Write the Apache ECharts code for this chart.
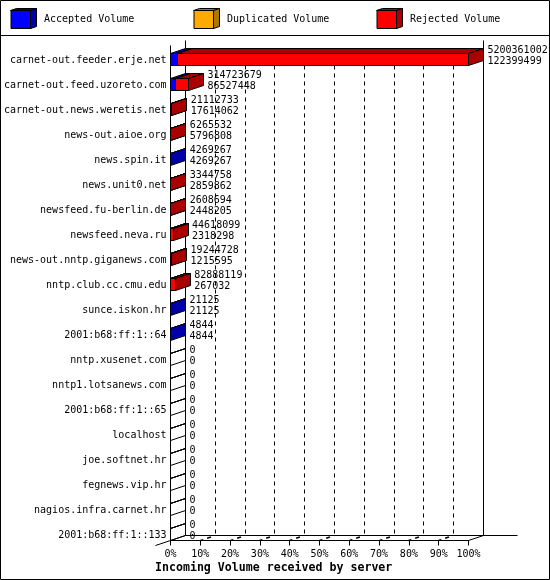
<!DOCTYPE html>
<html><head><meta charset="utf-8">
<style>html,body{margin:0;padding:0;background:#fff}#c{width:550px;height:580px}</style>
<script src="https://cdn.jsdelivr.net/npm/echarts@6/dist/echarts.min.js"></script>
</head><body><div id="c"></div>
<script>
const servers = ["carnet-out.feeder.erje.net","carnet-out.feed.uzoreto.com","carnet-out.news.weretis.net","news-out.aioe.org","news.spin.it","news.unit0.net","newsfeed.fu-berlin.de","newsfeed.neva.ru","news-out.nntp.giganews.com","nntp.club.cc.cmu.edu","sunce.iskon.hr","2001:b68:ff:1::64","nntp.xusenet.com","nntp1.lotsanews.com","2001:b68:ff:1::65","localhost","joe.softnet.hr","fegnews.vip.hr","nagios.infra.carnet.hr","2001:b68:ff:1::133"];
const totalVolume = [5200361002,314723679,21112733,6265532,4269267,3344758,2608694,44618099,19244728,82888119,21125,4844,0,0,0,0,0,0,0,0];
const acceptedVolume = [122399499,86527448,17614062,5796808,4269267,2859862,2448205,2318298,1215595,267032,21125,4844,0,0,0,0,0,0,0,0];
const percentTicks = [0,10,20,30,40,50,60,70,80,90,100];

const MONO = '"DejaVu Sans Mono","Liberation Mono",monospace';
const DX = 15, DY = 5;
const scale = 100 / Math.max(...totalVolume);
const px = v => Math.floor(v) + 0.5;
const C = {
  acc: ['#0000ff', '#0000aa'],
  dup: ['#ffaa00', '#aa7700'],
  rej: ['#ff0000', '#aa0000']
};
const ln = (x1,y1,x2,y2,dash,w) => ({type:'line', shape:{x1,y1,x2,y2}, style:{stroke:'#000', lineWidth:w||1, lineDash:dash||null}});
const poly = (points,fill) => ({type:'polygon', shape:{points}, style:{fill:fill||'transparent', stroke:'#000', lineWidth:1}});

function cuboid(col, hollowAllowed){
  return function(params, api){
    const s = api.value(0), e = api.value(1), row = api.value(2);
    if (e <= s && !hollowAllowed) return null;
    const a = api.coord([s,row]), b = api.coord([e,row]);
    const band = api.size([0,1])[1];
    const x0 = px(a[0]), x1 = px(b[0]);
    const top = px(a[1]), bot = px(a[1] + band/2);
    const empty = e <= s;
    return {type:'group', children:[
      poly([[x0,top],[x0+DX,top-DY],[x1+DX,top-DY],[x1,top]], empty?null:col[1]),
      poly([[x1,top],[x1+DX,top-DY],[x1+DX,bot-DY],[x1,bot]], empty?null:col[1]),
      poly([[x0,top],[x1,top],[x1,bot],[x0,bot]], empty?null:col[0])
    ]};
  };
}
function frame(params, api){
  const t = api.value(0);
  const base = api.coord([t, 19]);
  const band = api.size([0,1])[1];
  const fx = px(base[0]), fy = px(base[1] + band/2);
  const top = px(api.coord([0,0])[1] - band/2);
  const ch = [];
  const bx = fx + DX, by = fy - DY;
  if (t === 0){
    ch.push(ln(bx, top, bx, by));
    ch.push(ln(fx, top+DY, fx, fy));
    ch.push(ln(fx-DX, fy+DY, bx, by));
    ch.push(ln(bx, by, bx + 332, by));
  } else if (t === 100){
    ch.push(ln(bx, top, bx, by));
    ch.push(ln(fx, fy, bx, by));
  } else {
    ch.push(ln(bx, top+25, bx, by, [4,4]));
    ch.push(ln(fx, fy, bx, by, [3,4,4,6], 1.4));
  }
  return {type:'group', children:ch};
}
function valueText(params, api){
  const end = api.value(0), row = api.value(1);
  const c = api.coord([end,row]);
  const band = api.size([0,1])[1];
  const x = c[0] + DX + 4, bot = c[1] + band/2;
  const mk = (text,y) => ({type:'text', style:{text, x, y, fill:'#000', fontFamily:MONO, fontSize:10, align:'left', verticalAlign:'middle'}});
  return {type:'group', children:[
    mk(String(totalVolume[row]), bot-15),
    mk(String(acceptedVolume[row]), bot-4)
  ]};
}
const acc = acceptedVolume.map((v,i)=>[0, v*scale, i]);
const dup = acceptedVolume.map((v,i)=>[v*scale, v*scale, i]);
const rej = totalVolume.map((v,i)=>[acceptedVolume[i]*scale, v*scale, i]);
const legendBase = {top:10, padding:0, itemWidth:20, itemHeight:18, selectedMode:false, icon:'rect',
  itemStyle:{borderColor:'#000', borderWidth:1},
  textStyle:{fontFamily:MONO, fontSize:10, color:'#000', padding:[5,0,0,8]}};
const legendSide = (x, c) => [
  {type:'polygon', z:200, shape:{points:[[x,10.5],[x+6,8.5],[x+26,8.5],[x+20,10.5]]}, style:{fill:c, stroke:'#000', lineWidth:1}},
  {type:'polygon', z:200, shape:{points:[[x+20,10.5],[x+26,8.5],[x+26,26.5],[x+20,28.5]]}, style:{fill:c, stroke:'#000', lineWidth:1}}
];
const chart = echarts.init(document.getElementById('c'), null, {renderer:'canvas', devicePixelRatio:1});
chart.setOption({
  animation:false,
  backgroundColor:'#fff',
  title:{text:'Incoming Volume received by server', left:155, top:562, padding:0,
    textStyle:{fontFamily:MONO, fontSize:11.6, fontWeight:'bold', color:'#000'}},
  legend:[
    Object.assign({}, legendBase, {left:10.5, data:['Accepted Volume']}),
    Object.assign({}, legendBase, {left:193.5, data:['Duplicated Volume']}),
    Object.assign({}, legendBase, {left:376.5, data:['Rejected Volume']})
  ],
  graphic:[
    {type:'rect', z:-10, shape:{x:0.5,y:0.5,width:549,height:579}, style:{fill:'transparent', stroke:'#000', lineWidth:1}},
    {type:'line', shape:{x1:0,y1:35.5,x2:550,y2:35.5}, style:{stroke:'#000', lineWidth:1}},
    ...legendSide(10.5, C.acc[1]), ...legendSide(193.5, C.dup[1]), ...legendSide(376.5, C.rej[1])
  ],
  grid:{left:170.5, top:40.5, width:298, height:500},
  xAxis:{type:'value', min:0, max:100, interval:10,
    axisLine:{show:true, onZero:false, lineStyle:{color:'#000', width:1}},
    axisTick:{show:true, length:5, lineStyle:{color:'#000', width:1}},
    splitLine:{show:false},
    axisLabel:{show:true, margin:9, color:'#000', fontFamily:MONO, fontSize:10, formatter:'{value}%', hideOverlap:false}},
  yAxis:{type:'category', inverse:true, data:servers,
    axisLine:{show:false}, axisTick:{show:false}, splitLine:{show:false},
    axisLabel:{interval:0, margin:4, color:'#000', fontFamily:MONO, fontSize:10, verticalAlign:'top', lineHeight:14}},
  series:[
    {type:'custom', name:'frame', silent:true, z:1, data:percentTicks.map(t=>[t]), encode:{x:0}, renderItem:frame, clip:false},
    {type:'custom', name:'Accepted Volume', z:2, itemStyle:{color:C.acc[0]}, data:acc, encode:{x:[0,1],y:2}, renderItem:cuboid(C.acc,true), clip:false},
    {type:'custom', name:'Duplicated Volume', z:3, itemStyle:{color:C.dup[0]}, data:dup, encode:{x:[0,1],y:2}, renderItem:cuboid(C.dup,false), clip:false},
    {type:'custom', name:'Rejected Volume', z:4, itemStyle:{color:C.rej[0]}, data:rej, encode:{x:[0,1],y:2}, renderItem:cuboid(C.rej,false), clip:false},
    {type:'custom', name:'values', silent:true, z:5, data:totalVolume.map((v,i)=>[v*scale,i]), encode:{x:0,y:1}, renderItem:valueText, clip:false}
  ]
});
</script></body></html>
